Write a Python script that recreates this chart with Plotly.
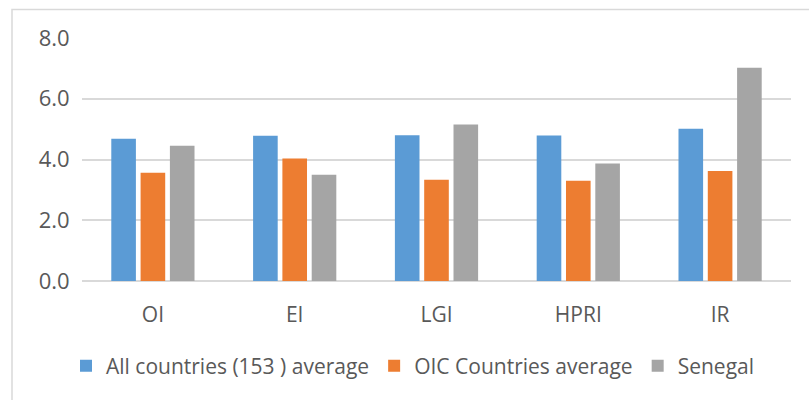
import plotly.graph_objects as go

# Index categories and series averages
categories = ["OI", "EI", "LGI", "HPRI", "IR"]
all_countries = [4.68, 4.78, 4.80, 4.79, 5.01]
oic_countries = [3.56, 4.03, 3.33, 3.30, 3.62]
senegal = [4.45, 3.50, 5.15, 3.87, 7.02]

series_names = ["All countries (153 ) average", "OIC Countries average", "Senegal"]
series_colors = ["#5B9BD5", "#ED7D31", "#A5A5A5"]
y_ticks = [0, 2, 4, 6, 8]

text_color = "#595959"
grid_color = "#D9D9D9"
font_family = "Open Sans, Liberation Sans, sans-serif"

fig = go.Figure()
for name, values, color in zip(series_names, [all_countries, oic_countries, senegal], series_colors):
    fig.add_trace(go.Bar(
        x=categories,
        y=values,
        name=name,
        marker=dict(color=color, line=dict(width=0)),
    ))

fig.update_layout(
    width=809,
    height=400,
    margin=dict(l=82, r=18, t=37.5, b=119.3),
    paper_bgcolor="white",
    plot_bgcolor="white",
    barmode="group",
    bargap=0.38,
    bargroupgap=0.16,
    font=dict(family=font_family, size=21, color=text_color),
    legend=dict(
        orientation="h",
        x=-16 / 709,
        xanchor="left",
        y=-0.35,
        yanchor="middle",
        font=dict(family=font_family, size=21, color=text_color),
        itemwidth=30,
        traceorder="normal",
    ),
    showlegend=True,
)

# Invisible tick marks keep the labels clear of the plot area
fig.update_yaxes(
    range=[0, 8],
    tickvals=y_ticks,
    ticktext=[f"{v:.1f}" for v in y_ticks],
    showgrid=True,
    gridcolor=grid_color,
    gridwidth=1.5,
    zeroline=True,
    zerolinecolor=grid_color,
    zerolinewidth=1.5,
    showline=False,
    ticks="outside",
    ticklen=7,
    tickcolor="rgba(0,0,0,0)",
    tickfont=dict(size=22, color=text_color),
)
fig.update_xaxes(
    showgrid=False,
    showline=False,
    ticks="outside",
    ticklen=3,
    tickcolor="rgba(0,0,0,0)",
    ticklabelstandoff=12,
    tickfont=dict(size=21, color=text_color),
)

# Light chart frame around the figure
fig.add_shape(
    type="rect",
    xref="paper", yref="paper",
    x0=(12 - 82) / 709, x1=1.2,
    y0=-1.0, y1=1 + (37.5 - 9) / 243.2,
    line=dict(color=grid_color, width=1.5),
    fillcolor="rgba(0,0,0,0)",
    layer="below",
)

fig.write_html("out.html")
